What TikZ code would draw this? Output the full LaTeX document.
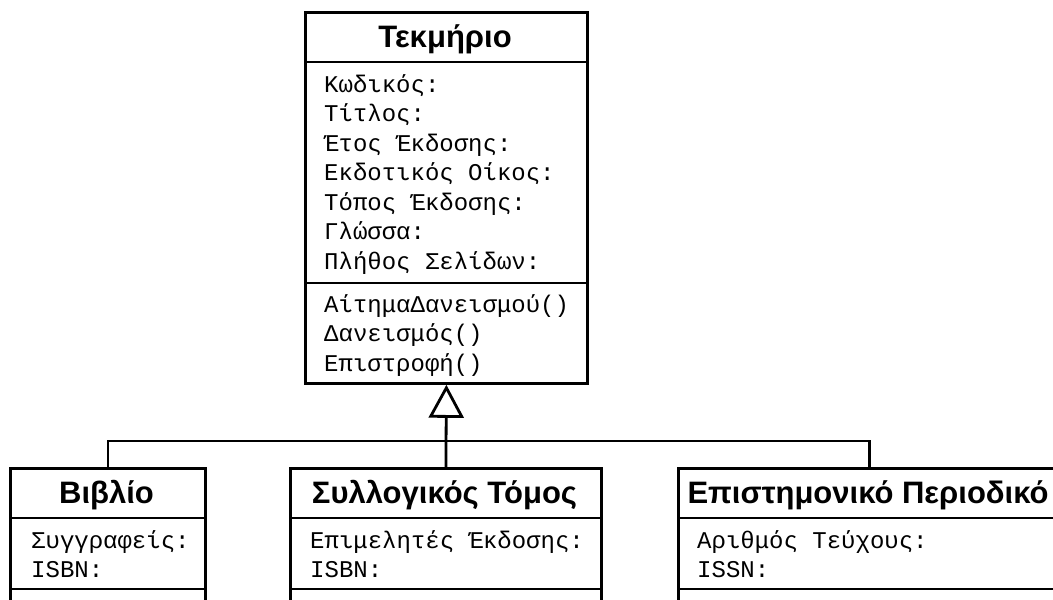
\documentclass[tikz,border=0pt]{standalone}
\usepackage{fontspec}
\setmainfont{Liberation Sans}
\newfontfamily\monof{Liberation Mono}
\usetikzlibrary{arrows.meta}
\begin{document}
\begin{tikzpicture}[x=1pt,y=-1pt,
  lw/.style={line width=2.8pt},
  classbox/.style={draw, lw, fill=white, inner sep=0pt, anchor=north west},
  ctitle/.style={font=\bfseries\fontsize{31}{32}\selectfont, anchor=base, inner sep=0pt},
  attr/.style={font=\monof\fontsize{24}{29.5}\selectfont, anchor=base west, inner sep=0pt},
  sepline/.style={lw},
  conn/.style={lw, line join=miter},
  inh/.style={conn, -{Triangle[open, length=33pt, width=35pt, fill=white]}}
]
\useasboundingbox (0,0) rectangle (1053,600);
\clip (0,0) rectangle (1053,600);
\fill[white] (0,0) rectangle (1053,600);

% top class
\node[classbox, minimum width=282pt, minimum height=371pt] (tek) at (304,11) {};
\draw[sepline] (304,62) -- (586,62);
\draw[sepline] (304,283) -- (586,283);
\node[ctitle] (tekT) at (445,47.5) {Τεκμήριο};
\node[attr] (a1) at (324,92) {Κωδικός:};
\node[attr] (a2) at (324,121.5) {Τίτλος:};
\node[attr] (a3) at (324,151) {Έτος Έκδοσης:};
\node[attr] (a4) at (324,180.5) {Εκδοτικός Οίκος:};
\node[attr] (a5) at (324,210) {Τόπος Έκδοσης:};
\node[attr] (a6) at (324,239.5) {Γλώσσα:};
\node[attr] (a7) at (324,269) {Πλήθος Σελίδων:};
\node[attr] (m1) at (324,312) {ΑίτημαΔανεισμού()};
\node[attr] (m2) at (324,341.5) {Δανεισμός()};
\node[attr] (m3) at (324,371) {Επιστροφή()};

% bottom classes
\node[classbox, minimum width=195pt, minimum height=200pt] (lib) at (9,467) {};
\draw[sepline] (9,518) -- (204,518);
\draw[sepline] (9,589) -- (204,589);
\node[ctitle] (libT) at (106.5,503.5) {Βιβλίο};
\node[attr] (l1) at (31,548) {Συγγραφείς:};
\node[attr] (l2) at (31,577) {ISBN:};

\node[classbox, minimum width=311pt, minimum height=200pt] (syl) at (289,467) {};
\draw[sepline] (289,518) -- (600,518);
\draw[sepline] (289,589) -- (600,589);
\node[ctitle] (sylT) at (444.5,503.5) {Συλλογικός Τόμος};
\node[attr] (s1) at (310,548) {Επιμελητές Έκδοσης:};
\node[attr] (s2) at (310,577) {ISBN:};

\node[classbox, minimum width=382pt, minimum height=200pt] (per) at (677,467) {};
\draw[sepline] (677,518) -- (1059,518);
\draw[sepline] (677,589) -- (1059,589);
\node[ctitle] (perT) at (868,503.5) {Επιστημονικό Περιοδικό};
\node[attr] (p1) at (697,548) {Αριθμός Τεύχους:};
\node[attr] (p2) at (697,577) {ISSN:};

% connectors
\coordinate (bus) at (445,441);
\draw[conn] (lib.north) |- (bus) -| (per.north);
\draw[inh] (syl.north) -- (tek.south);
\end{tikzpicture}
\end{document}
